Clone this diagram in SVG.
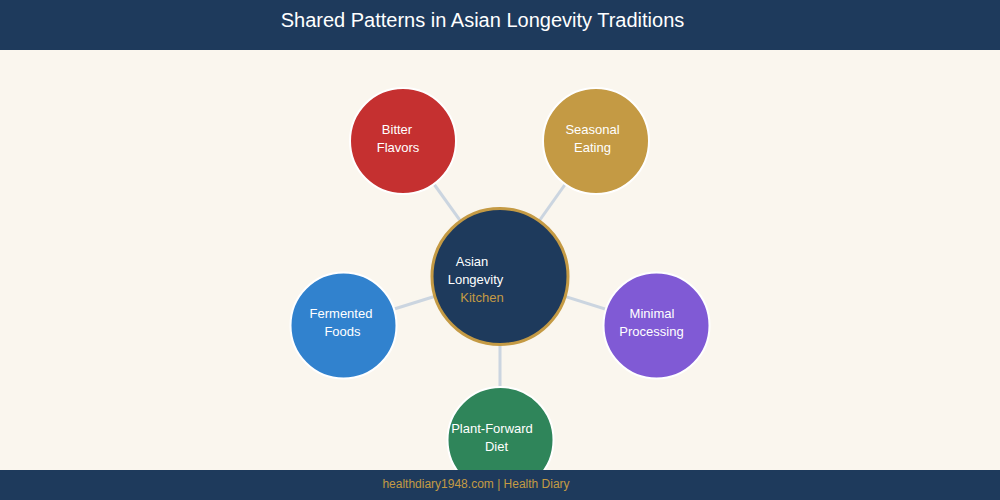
<svg xmlns="http://www.w3.org/2000/svg" width="1000" height="500" viewBox="0 0 1000 500">
<style>
.lbl{font-family:"Liberation Sans",Arial,sans-serif;font-size:13px;fill:#ffffff;text-anchor:middle}
.node{stroke:#ffffff;stroke-width:2}
.conn{stroke:#cbd5e0;stroke-width:3}
</style>
<rect width="1000" height="500" fill="#faf6ee"/>
<rect width="1000" height="50" fill="#1e3a5c"/>
<text x="482.5" y="27" font-family="Liberation Sans,Arial,sans-serif" font-size="20" fill="#ffffff" text-anchor="middle">Shared Patterns in Asian Longevity Traditions</text>
<g id="connectors">
<line class="conn" x1="500" y1="276" x2="403" y2="141"/>
<line class="conn" x1="500" y1="276" x2="596" y2="141"/>
<line class="conn" x1="500" y1="276" x2="343" y2="325"/>
<line class="conn" x1="500" y1="276" x2="656" y2="325"/>
<line class="conn" x1="500" y1="276" x2="500" y2="440"/>
</g>
<g id="bitter">
<circle class="node" cx="403" cy="141" r="53" fill="#c53030"/>
<text class="lbl" x="397" y="134">Bitter</text>
<text class="lbl" x="398" y="152">Flavors</text>
</g>
<g id="seasonal">
<circle class="node" cx="596" cy="141" r="53" fill="#c49a44"/>
<text class="lbl" x="592.5" y="134">Seasonal</text>
<text class="lbl" x="592.5" y="152">Eating</text>
</g>
<g id="fermented">
<circle class="node" cx="343.5" cy="325.5" r="53" fill="#3182ce"/>
<text class="lbl" x="341" y="318">Fermented</text>
<text class="lbl" x="342.5" y="336">Foods</text>
</g>
<g id="minimal">
<circle class="node" cx="656.5" cy="325.5" r="53" fill="#805ad5"/>
<text class="lbl" x="652" y="318">Minimal</text>
<text class="lbl" x="651.5" y="336">Processing</text>
</g>
<g id="plant">
<circle class="node" cx="500.5" cy="440" r="53" fill="#2f855a"/>
<text class="lbl" x="492" y="433">Plant-Forward</text>
<text class="lbl" x="496.5" y="451">Diet</text>
</g>
<g id="center">
<circle cx="500" cy="276.5" r="68" fill="#1e3a5c" stroke="#c49a44" stroke-width="3"/>
<text class="lbl" x="472" y="266">Asian</text>
<text class="lbl" x="475.5" y="284">Longevity</text>
<text class="lbl" x="482" y="302" style="fill:#c49a44">Kitchen</text>
</g>
<rect y="470" width="1000" height="30" fill="#1e3a5c"/>
<text x="476" y="488" font-family="Liberation Sans,Arial,sans-serif" font-size="12" fill="#c49a44" text-anchor="middle">healthdiary1948.com | Health Diary</text>
</svg>
